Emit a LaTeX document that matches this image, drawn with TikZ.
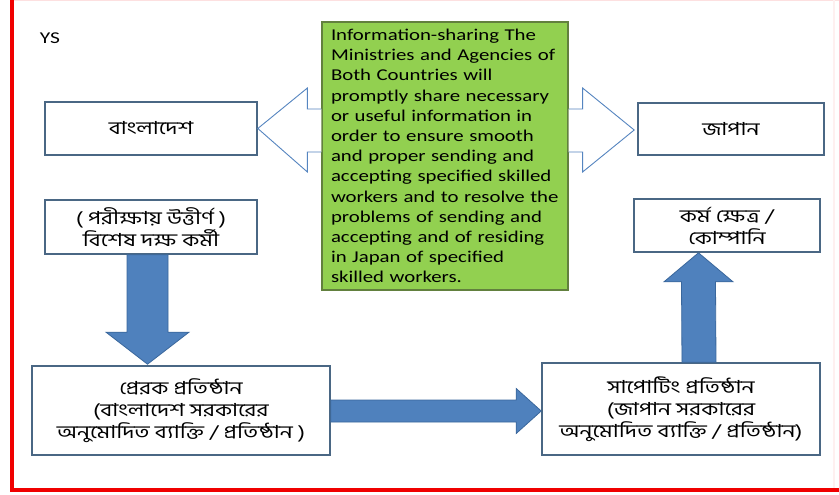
\documentclass[tikz,border=0pt]{standalone}
\usepackage{fontspec}
\setmainfont{Carlito}
\newfontfamily\greenfont[FakeStretch=1.26]{Carlito}
\newfontfamily\ysfont[FakeStretch=1.3]{Carlito}
\newfontfamily\bn[Script=Bengali,FakeStretch=1.27]{Hind Siliguri}
\usetikzlibrary{calc}
\definecolor{boxline}{HTML}{4A6784}
\definecolor{arrfill}{HTML}{4F81BD}
\definecolor{arrline}{HTML}{3A679C}
\definecolor{greenfill}{HTML}{92D050}
\definecolor{greenline}{HTML}{62803E}
\definecolor{hollowline}{HTML}{5585C0}
\definecolor{frame}{HTML}{F00000}
\begin{document}
\begin{tikzpicture}[x=1pt,y=-1pt,
  bbox/.style={draw=boxline, line width=1.6pt, fill=white, inner sep=0pt, align=center,
    font=\bn\fontsize{18}{22}\selectfont},
  blockarrow/.style={fill=arrfill, draw=arrline, line width=0.8pt, line join=miter},
  hollowarrow/.style={fill=white, draw=hollowline, line width=0.9pt, line join=miter},
  infobox/.style={draw=greenline, line width=1.2pt, fill=greenfill, inner ysep=0pt, inner xsep=9pt,
    align=left, text width=228pt, font=\greenfont\fontsize{16.5}{20.2}\selectfont},
  labeltext/.style={font=\ysfont\fontsize{16.5}{18}\selectfont, inner sep=0pt}
]
\useasboundingbox (0,0) rectangle (839,495);
\fill[white] (0,0) rectangle (839,495);
% frame
\fill[frame!12] (10,0) rectangle (839,1.5);
\fill[frame!6] (833,0) rectangle (834.5,490);
\fill[frame] (10,0) rectangle (13.5,492);
\fill[frame] (10,488) rectangle (839,492);

\node[labeltext] (ys) at (50,38.5) {YS};

% boxes
\node[bbox, minimum width=212pt, minimum height=53pt] (bd) at (151,128.5) {বাংলাদেশ};
\node[bbox, minimum width=186pt, minimum height=52pt] (jp) at (731,129) {জাপান};
\node[bbox, minimum width=212pt, minimum height=54pt] (skilled) at (151,227) {( পরীক্ষায় উত্তীর্ণ )\\বিশেষ দক্ষ কর্মী};
\node[bbox, minimum width=186pt, minimum height=53pt] (karma) at (727,225.5) {কর্ম ক্ষেত্র /\\কোম্পানি};
\node[bbox, minimum width=298pt, minimum height=89pt] (sender) at (181,410.5) {প্রেরক প্রতিষ্ঠান\\(বাংলাদেশ সরকারের\\অনুমোদিত ব্যাক্তি / প্রতিষ্ঠান )};
\node[bbox, minimum width=278pt, minimum height=92pt] (support) at (681,409) {সাপোটিং প্রতিষ্ঠান\\(জাপান সরকারের\\অনুমোদিত ব্যাক্তি / প্রতিষ্ঠান)};

% green info box
\node[infobox, minimum width=246pt, minimum height=268pt] (info) at (445,156) {Information-sharing The\\Ministries and Agencies of\\Both Countries will\\promptly share necessary\\or useful information in\\order to ensure smooth\\and proper sending and\\accepting specified skilled\\workers and to resolve the\\problems of sending and\\accepting and of residing\\in Japan of specified\\skilled workers.};

% hollow arrows from the info box
\draw[hollowarrow] ($(info.west |- bd.east)+(0,-19.5)$) -- ($(info.west |- bd.east)+(-14,-19.5)$)
  -- ($(info.west |- bd.east)+(-14,-40.5)$) -- (bd.east)
  -- ($(info.west |- bd.east)+(-14,43.5)$) -- ($(info.west |- bd.east)+(-14,23.5)$)
  -- ($(info.west |- bd.east)+(0,23.5)$);
\draw[hollowarrow] ($(info.east |- jp.west)+(0,-20)$) -- ($(info.east |- jp.west)+(14,-20)$)
  -- ($(info.east |- jp.west)+(14,-41)$) -- ($(jp.west)+(-3,1)$)
  -- ($(info.east |- jp.west)+(14,43)$) -- ($(info.east |- jp.west)+(14,23)$)
  -- ($(info.east |- jp.west)+(0,23)$);

% down arrow: skilled -> sender
\coordinate (d1) at ($(skilled.south)+(-3.5,0)$);
\coordinate (d2) at ($(sender.north)+(-33.5,-1)$);
\draw[blockarrow] ($(d1)+(-20.5,0)$) -- ($(d1)+(20.5,0)$) -- ($(d2)+(20.5,-32)$) -- ($(d2)+(41.5,-32)$)
  -- (d2) -- ($(d2)+(-41.5,-32)$) -- ($(d2)+(-20.5,-32)$) -- cycle;

% right arrow: sender -> support
\coordinate (r1) at ($(sender.east)+(0,0.5)$);
\coordinate (r2) at ($(support.west)+(0,2)$);
\draw[blockarrow] ($(r1)+(0,-11)$) -- ($(r2)+(-25,-11)$) -- ($(r2)+(-25,-22.5)$) -- (r2)
  -- ($(r2)+(-25,22.5)$) -- ($(r2)+(-25,11)$) -- ($(r1)+(0,11)$) -- cycle;

% up arrow: support -> karma
\coordinate (u1) at ($(support.north)+(18,0)$);
\coordinate (u2) at ($(karma.south)+(-28.5,0)$);
\draw[blockarrow] ($(u1)+(-17,0)$) -- ($(u2)+(-17,29)$) -- ($(u2)+(-34.5,29)$) -- (u2)
  -- ($(u2)+(34.5,29)$) -- ($(u2)+(17,29)$) -- ($(u1)+(17,0)$) -- cycle;
\end{tikzpicture}
\end{document}
